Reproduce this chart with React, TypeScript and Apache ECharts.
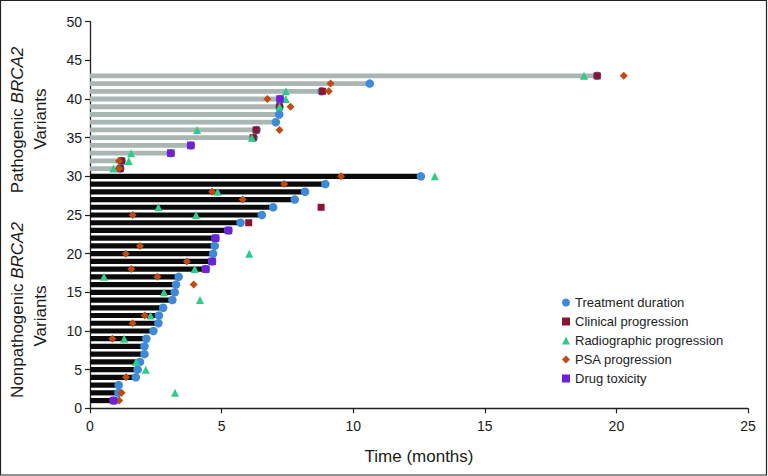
import React, { useEffect, useRef } from "react";
import * as echarts from "echarts";

// Row numbers (y) and treatment duration in months (x)
const nonpathogenicRows = [1,2,3,4,5,6,7,8,9,10,11,12,13,14,15,16,17,18,19,20,21,22,23,24,25,26,27,28,29,30];
const nonpathogenicDurations = [0.9,1.08,1.09,1.74,1.81,1.9,2.07,2.07,2.14,2.41,2.6,2.62,2.78,3.13,3.22,3.27,3.37,4.4,4.64,4.68,4.74,4.77,5.26,5.72,6.53,6.96,7.78,8.17,8.94,12.57];
const pathogenicRows = [31,32,33,34,35,36,37,38,39,40,41,42,43];
const pathogenicDurations = [1.15,1.2,3.07,3.83,6.22,6.33,7.06,7.19,7.2,7.22,8.8,10.63,19.27];

// Events: [month, row]
const clinicalProgression: [number, number][] = [
  [6.03,24],[8.78,26],[1.15,31],[1.2,32],[6.2,35],[6.31,36],[7.2,39],[8.83,41],[19.27,43],
];
const radiographicProgression: [number, number][] = [
  [3.23,2],[2.12,5],[1.75,6],[1.3,9],[2.3,12],[4.18,14],[2.81,15],[0.53,17],[3.98,18],[6.05,20],
  [4.03,25],[2.6,26],[4.85,28],[13.1,30],[0.89,31],[1.47,32],[1.56,33],[6.15,35],[4.07,36],
  [7.2,39],[7.44,40],[7.44,41],[18.77,43],
];
const psaProgression: [number, number][] = [
  [1.11,1],[1.2,2],[1.37,4],[0.85,9],[1.62,11],[2.08,12],[3.94,16],[2.56,17],[1.57,18],[3.68,19],
  [1.36,20],[1.9,21],[1.62,25],[5.8,27],[4.64,28],[7.38,29],[9.54,30],[1.1,31],[1.1,32],[7.2,36],
  [7.62,39],[6.74,40],[9.07,41],[9.14,42],[20.28,43],
];
const drugToxicity: [number, number][] = [
  [0.9,1],[4.4,18],[4.64,19],[4.77,22],[5.26,23],[3.07,33],[3.83,34],[7.22,40],
];

const xTicks = { min: 0, max: 25, interval: 5 };
const yTicks = { min: 0, max: 50, interval: 5 };

const FONT = "'Liberation Sans', Arial, sans-serif";
const C_BLUE = "#3f8ad8";
const C_MAROON = "#8a1530";
const C_TEAL = "#2ecc8a";
const C_ORANGE = "#bf4a12";
const C_PURPLE = "#7020d8";
const C_GREY = "#aab6b4";
const C_BLACK = "#0b0b0b";

export default function App() {
  const ref = useRef<HTMLDivElement>(null);
  useEffect(() => {
    document.body.style.margin = "0";
    const chart = echarts.init(ref.current!, null, { renderer: "svg" });

    const barData = [
      ...nonpathogenicRows.map((r, i) => [nonpathogenicDurations[i], r, 0]),
      ...pathogenicRows.map((r, i) => [pathogenicDurations[i], r, 1]),
    ];
    const treatmentPoints = barData.map((d) => [d[0], d[1]]);

    const titleStyle = (text: string, x: number, y: number) => ({
      type: "text",
      x,
      y,
      rotation: Math.PI / 2,
      style: {
        text,
        align: "center",
        verticalAlign: "middle",
        fill: "#1a1a1a",
        font: `17px ${FONT}`,
        rich: {
          n: { fontSize: 17, fontFamily: FONT, fill: "#1a1a1a" },
          i: { fontSize: 17, fontFamily: FONT, fontStyle: "italic", fill: "#1a1a1a" },
        },
      },
    });

    const scatter = (name: string, symbol: string, size: number, color: string, data: any[], z: number) => ({
      type: "scatter",
      name,
      symbol,
      symbolSize: size,
      itemStyle: { color, opacity: 1 },
      emphasis: { disabled: true },
      data,
      z,
    });

    chart.setOption({
      animation: false,
      backgroundColor: "#fff",
      grid: { left: 90, right: 20, top: 21.7, bottom: 67.7 },
      xAxis: {
        type: "value",
        ...xTicks,
        name: "Time (months)",
        nameLocation: "middle",
        nameGap: 40,
        nameTextStyle: { fontSize: 17, fontFamily: FONT, color: "#1a1a1a" },
        axisLine: { lineStyle: { color: "#222", width: 1.3 } },
        axisTick: { show: true, length: 5, lineStyle: { color: "#222", width: 1.2 } },
        axisLabel: { fontSize: 14, fontFamily: FONT, color: "#1a1a1a", margin: 11 },
        splitLine: { show: false },
      },
      yAxis: {
        type: "value",
        ...yTicks,
        axisLine: { show: true, lineStyle: { color: "#222", width: 1.3 } },
        axisTick: { show: true, length: 5, lineStyle: { color: "#222", width: 1.2 } },
        axisLabel: { fontSize: 14, fontFamily: FONT, color: "#1a1a1a", margin: 8 },
        splitLine: { show: false },
      },
      legend: {
        orient: "vertical",
        left: 557,
        top: 291,
        itemWidth: 8,
        itemHeight: 8,
        itemGap: 6,
        textStyle: { fontSize: 13, fontFamily: FONT, color: "#222" },
        data: [
          { name: "Treatment duration", icon: "circle" },
          { name: "Clinical progression", icon: "rect" },
          { name: "Radiographic progression", icon: "triangle" },
          { name: "PSA progression", icon: "diamond" },
          { name: "Drug toxicity", icon: "rect" },
        ],
      },
      graphic: [
        {
          type: "rect",
          shape: { x: 0.5, y: 0.5, width: 766, height: 474.5 },
          style: { fill: "none", stroke: "#222", lineWidth: 1.2 },
          silent: true,
        },
        titleStyle("{n|Pathogenic }{i|BRCA2}", 17.5, 120),
        titleStyle("{n|Variants}", 40.5, 119),
        titleStyle("{n|Nonpathogenic }{i|BRCA2}", 17.5, 310),
        titleStyle("{n|Variants}", 40.5, 316),
      ],
      series: [
        {
          type: "custom",
          name: "bars",
          data: barData,
          encode: { x: 0, y: 1 },
          z: 1,
          renderItem: (params: any, api: any) => {
            const dur = api.value(0);
            const row = api.value(1);
            const grp = api.value(2);
            const s = api.coord([0, row]);
            const e = api.coord([dur, row]);
            const h = grp === 1 ? 4.8 : 5.2;
            return {
              type: "rect",
              shape: { x: s[0], y: s[1] - h / 2, width: e[0] - s[0], height: h },
              style: { fill: grp === 1 ? C_GREY : C_BLACK },
            };
          },
        },
        scatter("Treatment duration", "circle", 8.5, C_BLUE, treatmentPoints, 2),
        scatter("Clinical progression", "rect", 7, C_MAROON, clinicalProgression, 3),
        scatter("Radiographic progression", "triangle", 8, C_TEAL, radiographicProgression, 4),
        scatter("PSA progression", "diamond", 8, C_ORANGE, psaProgression, 5),
        scatter("Drug toxicity", "rect", 7.5, C_PURPLE, drugToxicity, 6),
      ],
    });
    return () => chart.dispose();
  }, []);
  return (
    <div
      ref={ref}
      style={{ position: "absolute", left: 0, top: 0, width: 768, height: 476 }}
    />
  );
}
